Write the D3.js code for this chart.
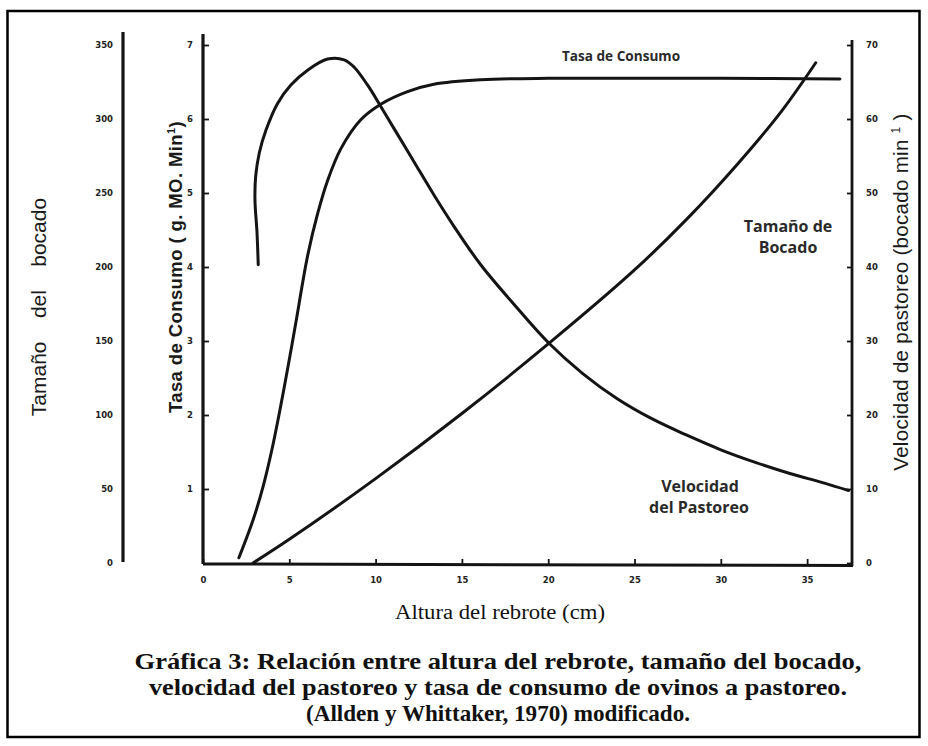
<!DOCTYPE html>
<html><head><meta charset="utf-8">
<script src="https://cdn.jsdelivr.net/npm/d3@7"></script>
<style>body{margin:0;background:#fff}svg{display:block}</style>
</head><body>
<svg id="c" width="928" height="746"></svg>
<script>
// ---- data ----
const xTicks = [0,5,10,15,20,25,30,35];
const tasaTicks = [1,2,3,4,5,6,7];
const tamanoTicks = [0,50,100,150,200,250,300,350];
const velTicks = [0,10,20,30,40,50,60,70];

// Velocidad del pastoreo (bocado/min) vs altura del rebrote (cm)
const velocidad = [[3.20,40.3],[3.13,44.6],[3.01,49.1],[3.05,52.2],[3.26,55.4],[3.65,58.5],[4.32,62.1],[5.09,64.6],[6.06,66.6],[7.22,68.1],[8.18,68.0],[8.76,67.0],[9.53,64.6],[10.3,61.7],[11.07,58.7],[12.23,54.2],[13.39,49.7],[14.54,45.5],[16.09,40.3],[18,35.0],[20,29.8],[22,25.6],[24,22.2],[26,19.5],[28,17.3],[30,15.3],[32,13.6],[34,12.1],[36,10.8],[37.4,9.8]];
// Tasa de consumo (g MO/min)
const tasa = [[2.08,0.07],[2.9,0.58],[3.5,1.05],[4,1.54],[4.5,2.12],[5,2.75],[5.38,3.25],[6.06,4.15],[6.64,4.72],[7.22,5.17],[7.99,5.60],[9.14,5.99],[10.3,6.2],[11.85,6.37],[13.37,6.47],[16.1,6.53],[20,6.55],[25,6.55],[30,6.55],[36.9,6.54]];
// Tamaño del bocado
const tamano = [[2.9,0],[5,16],[10,57],[15,101],[20,148],[25,198],[28,232],[31,270],[33.5,305],[35.5,338]];

const caption = ["Gráfica 3: Relación entre altura del rebrote, tamaño del bocado,",
  "velocidad del pastoreo y tasa de consumo de ovinos a pastoreo.",
  "(Allden y Whittaker, 1970) modificado."];

// ---- drawing ----
const svg = d3.select("#c");
const ink = "#141414";
svg.append("rect").attr("x",7.5).attr("y",11).attr("width",912).attr("height",726)
  .attr("fill","none").attr("stroke","#000").attr("stroke-width",2.5);

const x = d3.scaleLinear().domain([0,37.6]).range([203,852]);
const yT = d3.scaleLinear().domain([0,7]).range([563,45]);
const yS = d3.scaleLinear().domain([0,350]).range([563,45]);
const yV = d3.scaleLinear().domain([0,70]).range([563,45]);

const tickFont = "'DejaVu Sans', Verdana, sans-serif";

// left "Tamaño del bocado" axis: bar + labels only
const gS = svg.append("g").attr("transform","translate(123,0)");
gS.call(d3.axisLeft(yS).tickValues(tamanoTicks).tickSize(0).tickPadding(10));
gS.select(".domain").remove();
gS.append("line").attr("x1",0).attr("x2",0).attr("y1",32).attr("y2",562)
  .attr("stroke",ink).attr("stroke-width",3.2);

// middle axis (Tasa)
const gT = svg.append("g").attr("transform","translate(203,0)");
gT.call(d3.axisRight(yT).tickValues(tasaTicks).tickSize(6).tickFormat(d3.format("d")));
gT.select(".domain").remove();
gT.append("line").attr("x1",0).attr("x2",0).attr("y1",34).attr("y2",564)
  .attr("stroke",ink).attr("stroke-width",3.2);
gT.selectAll(".tick text").attr("x",-10).attr("text-anchor","end");

// right axis (Velocidad)
const gV = svg.append("g").attr("transform","translate(852,0)");
gV.call(d3.axisLeft(yV).tickValues(velTicks).tickSize(5));
gV.select(".domain").remove();
gV.append("line").attr("x1",0).attr("x2",0).attr("y1",40).attr("y2",566)
  .attr("stroke",ink).attr("stroke-width",2.8);
gV.selectAll(".tick text").attr("x",14).attr("text-anchor","start");

// x axis
const gX = svg.append("g").attr("transform","translate(0,564)");
gX.call(d3.axisTop(x).tickValues(xTicks).tickSize(5));
gX.select(".domain").remove();
gX.append("line").attr("x1",203).attr("x2",853).attr("y1",0).attr("y2",1.5)
  .attr("stroke",ink).attr("stroke-width",3);
gX.selectAll(".tick text").attr("y",19);

[gS,gT,gV,gX].forEach(g=>{
  g.selectAll(".tick line").attr("stroke",ink).attr("stroke-width",1.8);
  g.selectAll(".tick text").attr("font-family",tickFont).attr("font-size",8.5)
   .attr("font-weight","bold").attr("fill","#222");
});

// curves
const lineV = d3.line().x(d=>x(d[0])).y(d=>yV(d[1])).curve(d3.curveCatmullRom.alpha(0.5));
const lineT = d3.line().x(d=>x(d[0])).y(d=>yT(d[1])).curve(d3.curveCatmullRom.alpha(0.5));
const lineS = d3.line().x(d=>x(d[0])).y(d=>yS(d[1])).curve(d3.curveCatmullRom.alpha(0.5));
[[velocidad,lineV],[tasa,lineT],[tamano,lineS]].forEach(([d,l])=>{
  svg.append("path").attr("d",l(d)).attr("fill","none").attr("stroke",ink)
    .attr("stroke-width",3).attr("stroke-linecap","round").attr("stroke-linejoin","round");
});

// series labels
const lab = (t,xx,yy,fs)=>svg.append("text").attr("x",xx).attr("y",yy).attr("text-anchor","middle")
  .attr("font-family","'Open Sans', 'DejaVu Sans', sans-serif").attr("font-weight","bold")
  .attr("font-size",fs).attr("fill","#2a2a2a").text(t);
lab("Tasa de Consumo",621,61,13.6);
lab("Tamaño de",788,232,16);
lab("Bocado",788,253,16);
lab("Velocidad",700,492,16);
lab("del Pastoreo",699,513,16);

// axis titles
svg.append("text").attr("transform","translate(46,307) rotate(-90)").attr("text-anchor","middle")
  .attr("font-family","'Liberation Sans', Arial, sans-serif").attr("font-size",21).attr("fill","#1a1a1a")
  .attr("xml:space","preserve").text("Tamaño    del    bocado");
const tt = svg.append("text").attr("transform","translate(182,267) rotate(-90)").attr("text-anchor","middle")
  .attr("font-family","'Liberation Sans', Arial, sans-serif").attr("font-size",18.5).attr("font-weight","bold")
  .attr("letter-spacing",0.4).attr("fill","#1a1a1a");
tt.append("tspan").text("Tasa de Consumo ( g. MO. Min");
tt.append("tspan").attr("font-size",11).attr("dy",-7).text("1");
tt.append("tspan").attr("dy",7).text(")");
const tv = svg.append("text").attr("transform","translate(908,292) rotate(-90)").attr("text-anchor","middle")
  .attr("font-family","'Liberation Sans', Arial, sans-serif").attr("font-size",20.5).attr("fill","#1a1a1a")
  .attr("letter-spacing",0.3);
tv.append("tspan").text("Velocidad de pastoreo (bocado min ");
tv.append("tspan").attr("font-size",12).attr("dy",-8).text("1");
tv.append("tspan").attr("dy",8).text(" )");

svg.append("text").attr("x",500).attr("y",619).attr("text-anchor","middle")
  .attr("font-family","'Liberation Serif', 'Times New Roman', serif").attr("font-size",20).attr("fill","#111")
  .attr("textLength",210).attr("lengthAdjust","spacingAndGlyphs")
  .text("Altura del rebrote (cm)");

const capW = [727,698,384];
caption.forEach((c,i)=>{
  svg.append("text").attr("x",498).attr("y",669+i*26).attr("text-anchor","middle")
    .attr("font-family","'Liberation Serif', 'Times New Roman', serif").attr("font-weight","bold")
    .attr("font-size",22.5).attr("fill","#111")
    .attr("textLength",capW[i]).attr("lengthAdjust","spacingAndGlyphs").text(c);
});
</script>
</body></html>
